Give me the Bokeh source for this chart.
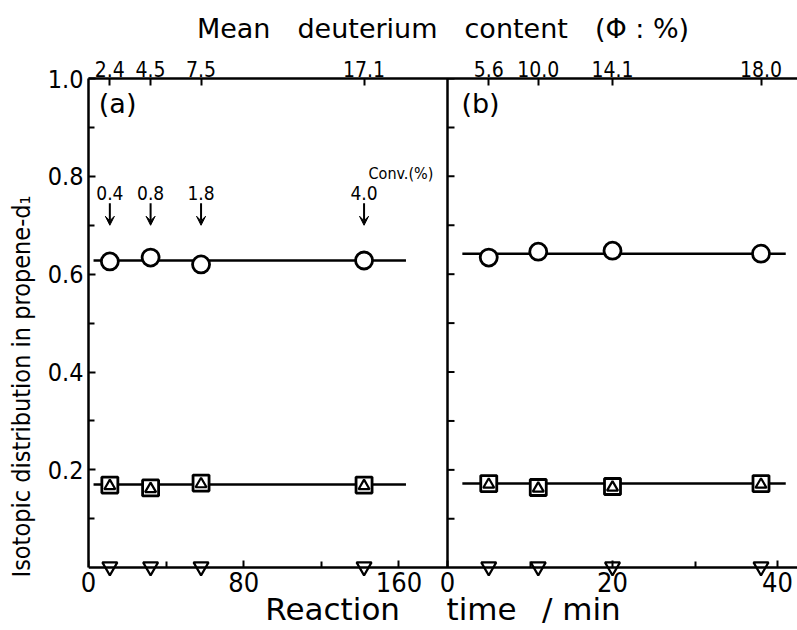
import numpy as np
from bokeh.plotting import figure
from bokeh.models import (Range1d, LinearAxis, FixedTicker, CustomJSTickFormatter,
                          PrintfTickFormatter, Label, Arrow, VeeHead, Title)
from bokeh.embed import file_html
from bokeh.resources import INLINE

# ---------------- data ----------------
time_a = [11, 32, 58, 142]
circle_a = [0.626, 0.634, 0.620, 0.628]
square_a = [0.169, 0.163, 0.173, 0.169]
tri_up_a = [0.167, 0.161, 0.171, 0.167]
tri_down_a = [0.002, 0.002, 0.002, 0.002]
phi_a = ["2.4", "4.5", "7.5", "17.1"]
conv_a = ["0.4", "0.8", "1.8", "4.0"]
fit_x_a = [2.6, 163.6]
fit_circle_a = [0.628, 0.628]
fit_square_a = [0.170, 0.170]

time_b = [5, 11, 20, 38]
circle_b = [0.634, 0.646, 0.648, 0.642]
square_b = [0.172, 0.164, 0.166, 0.172]
tri_up_b = [0.170, 0.162, 0.164, 0.170]
tri_down_b = [0.002, 0.002, 0.002, 0.002]
phi_b = ["5.6", "10.0", "14.1", "18.0"]
fit_x_b = [1.8, 41.0]
fit_circle_b = [0.642, 0.642]
fit_square_b = [0.172, 0.172]

xticks_a = [0, 80, 160]
xminor_a = [40, 120]
xticks_b = [0, 20, 40]
xminor_b = [10, 30]
yticks = [0.2, 0.4, 0.6, 0.8, 1.0]
yminor = [0.1, 0.3, 0.5, 0.7, 0.9]

# ---------------- layout ----------------
W, H = 797, 630
Y_MIN, Y_MAX, Y_PAD = 0.0, 1.0, 0.02
FRAME_TOP = 78
PX_PER_Y = 489
FRAME_BOT = FRAME_TOP + PX_PER_Y * (Y_MAX - Y_MIN + Y_PAD)
B_LEFT, B_RIGHT, B_TOP = 88, 0, FRAME_TOP
B_BOT = int(round(H - FRAME_BOT))
FRAME_W = W - B_LEFT - B_RIGHT
PA = 359                 # px width of panel (a)
PB = FRAME_W - PA        # px width of panel (b)
A_END = 185.0            # panel (a) data end (divider)
B_END = PB / 8.25        # panel (b) data end
ka = PA / A_END
kb = PB / B_END
r = kb / ka


def to_a(xb):
    return A_END + xb * r


FONT = "DejaVu Sans"
CFONT = "DejaVu Sans Condensed"

p = figure(width=W, height=H, output_backend="svg", toolbar_location=None,
           x_range=Range1d(0, A_END + B_END * r),
           y_range=Range1d(Y_MIN - Y_PAD, Y_MAX),
           x_axis_location=None, y_axis_location=None,
           min_border_left=B_LEFT, min_border_right=B_RIGHT,
           min_border_top=B_TOP, min_border_bottom=B_BOT)
p.extra_x_ranges = {"b": Range1d(-A_END / r, B_END)}
p.grid.visible = False
p.outline_line_color = None
p.background_fill_color = "white"
p.border_fill_color = "white"

fmt_code = """
let best = 0, bd = 1e99;
for (let i = 0; i < pos.length; i++) {
  const d = Math.abs(pos[i] - tick);
  if (d < bd) { bd = d; best = i; }
}
return labs[best];
"""

EM = "\u2003"
EN = "\u2002"
NB = "\u00a0"

bpos = list(xticks_a) + [to_a(t) for t in xticks_b]
blabs = [str(t) for t in xticks_a] + [str(t) for t in xticks_b]
bminor = list(xminor_a) + [to_a(t) for t in xminor_b]

# bottom axis line + ticks, sitting exactly at y = 0
xb_line = LinearAxis(ticker=FixedTicker(ticks=bpos, minor_ticks=bminor),
                     fixed_location=Y_MIN)
xb_line.major_label_text_alpha = 0
# bottom tick labels (no line)
xb_axis = LinearAxis(
    ticker=FixedTicker(ticks=bpos, minor_ticks=[]),
    formatter=CustomJSTickFormatter(args=dict(pos=bpos, labs=blabs), code=fmt_code))
# top axis
tpos = list(time_a) + [to_a(t) for t in time_b]
tlabs = list(phi_a) + list(phi_b)
xt_axis = LinearAxis(
    ticker=FixedTicker(ticks=tpos, minor_ticks=[]),
    formatter=CustomJSTickFormatter(args=dict(pos=tpos, labs=tlabs), code=fmt_code),
    axis_label="Mean" + EM + "deuterium" + EM + "content" + EM + "(Φ : %)")
# left axis
y_axis = LinearAxis(ticker=FixedTicker(ticks=yticks, minor_ticks=yminor),
                    formatter=PrintfTickFormatter(format="%.1f"),
                    bounds=(Y_MIN, Y_MAX))

for ax in (xb_line, xb_axis, xt_axis, y_axis):
    ax.axis_line_width = 2.5
    ax.axis_line_color = "black"
    ax.major_tick_in = 7
    ax.major_tick_out = 0
    ax.minor_tick_in = 6
    ax.minor_tick_out = 0
    ax.major_tick_line_width = 2
    ax.minor_tick_line_width = 2
    ax.major_label_text_font = CFONT
    ax.axis_label_text_font = FONT
    ax.axis_label_text_font_style = "normal"
    ax.major_label_text_color = "black"
    ax.axis_label_text_color = "black"

xb_axis.axis_line_color = None
xb_axis.major_tick_line_color = None
xb_axis.minor_tick_line_color = None
xb_axis.major_tick_in = 0
xb_axis.minor_tick_in = 0
xb_axis.major_label_text_font_size = "27px"
xb_axis.major_label_standoff = -6
xt_axis.major_label_text_font_size = "21px"
xt_axis.axis_label_text_font_size = "27px"
xt_axis.major_label_standoff = 2
xt_axis.axis_label_standoff = 14
y_axis.major_label_text_font_size = "25px"
y_axis.major_label_standoff = 5

p.add_layout(xb_line, "below")
p.add_layout(xb_axis, "below")
p.add_layout(Title(text="Reaction" + EM + EN + "time" + EN + NB + "/" + NB + "min",
                   align="center", vertical_align="bottom",
                   text_font=FONT, text_font_size="31px", text_font_style="normal",
                   text_color="black", standoff=-12), "below")
p.add_layout(xt_axis, "above")
p.add_layout(y_axis, "left")
p.add_layout(Title(text="Isotopic distribution in propene-d₁", align="left",
                   vertical_align="top",
                   text_font=CFONT, text_font_size="25px", text_font_style="normal",
                   text_color="black", standoff=13), "left")

# divider between panels
p.segment(x0=[A_END], x1=[A_END], y0=[Y_MIN], y1=[Y_MAX], line_color="black", line_width=2.5)
div_ticks = yticks + yminor
p.segment(x0=[A_END] * len(div_ticks), x1=[A_END + 7 / ka] * len(div_ticks),
          y0=div_ticks, y1=div_ticks, line_color="black", line_width=2)

# fitted horizontal lines
p.line(fit_x_a, fit_circle_a, line_color="black", line_width=2.5)
p.line(fit_x_a, fit_square_a, line_color="black", line_width=2.5)
p.line(fit_x_b, fit_circle_b, line_color="black", line_width=2.5, x_range_name="b")
p.line(fit_x_b, fit_square_b, line_color="black", line_width=2.5, x_range_name="b")


def markers(t, circ, sq, tu, td, rng):
    kw = {} if rng is None else {"x_range_name": rng}
    p.scatter(t, circ, marker="circle", size=17, fill_color="white",
              line_color="black", line_width=2.8, **kw)
    p.scatter(t, sq, marker="square", size=16, fill_color="white",
              line_color="black", line_width=2.8, **kw)
    p.scatter(t, tu, marker="triangle", size=11, fill_color="white",
              line_color="black", line_width=2.2, **kw)
    p.scatter(t, td, marker="inverted_triangle", size=15, fill_color="white",
              line_color="black", line_width=2.2, **kw)


markers(time_a, circle_a, square_a, tri_up_a, tri_down_a, None)
markers(time_b, circle_b, square_b, tri_up_b, tri_down_b, "b")

# conversion annotations
for t, c in zip(time_a, conv_a):
    p.add_layout(Label(x=t, y=0.765, text=c, text_align="center", text_baseline="middle",
                       text_font=CFONT, text_font_size="19px", text_color="black"))
    p.add_layout(Arrow(x_start=t, y_start=0.745, x_end=t, y_end=0.700,
                       line_width=2, line_color="black",
                       end=VeeHead(size=9, fill_color="black", line_color="black")))
p.add_layout(Label(x=161, y=0.806, text="Conv.(%)", text_align="center", text_baseline="middle",
                   text_font=CFONT, text_font_size="16px", text_color="black"))

# panel labels
p.add_layout(Label(x=15, y=0.949, text="(a)", text_align="center", text_baseline="middle",
                   text_font=FONT, text_font_size="27px", text_color="black"))
p.add_layout(Label(x=4.0, y=0.949, text="(b)", text_align="center", text_baseline="middle",
                   text_font=FONT, text_font_size="27px", text_color="black",
                   x_range_name="b"))

open("out.html", "w").write(file_html(p, INLINE))
